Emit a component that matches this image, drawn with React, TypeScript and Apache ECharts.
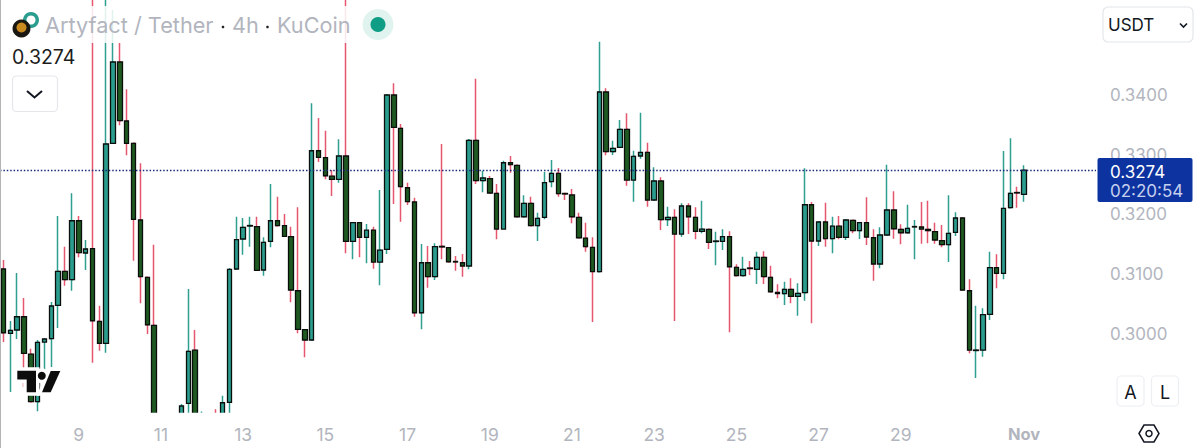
import React, { useEffect, useRef } from "react";
import * as echarts from "echarts";

const opens = [
  0.31084, 0.30006, 0.30062, 0.30284, 0.29659, 0.2886, 0.2986, 0.29916, 0.30475, 0.31045,
  0.30905, 0.31893, 0.31352, 0.31424, 0.30207, 0.29839, 0.3319, 0.34553, 0.33564, 0.3319,
  0.31905, 0.30945, 0.3014, 0.28386, 0.28134, 0.28218, 0.28469, 0.28833, 0.29726, 0.28469,
  0.28553, 0.28637, 0.28587, 0.2885, 0.31084, 0.31587, 0.31804, 0.31793, 0.31067, 0.31548,
  0.31893, 0.3181, 0.31625, 0.3072, 0.30067, 0.29894, 0.33066, 0.32949, 0.32642, 0.32587,
  0.32978, 0.31548, 0.3186, 0.31615, 0.31737, 0.31201, 0.31414, 0.34, 0.33442, 0.32446,
  0.32207, 0.30351, 0.31189, 0.30955, 0.31464, 0.31441, 0.31211, 0.31189, 0.31134, 0.33241,
  0.32564, 0.32597, 0.32352, 0.31754, 0.32865, 0.32822, 0.3196, 0.32185, 0.3181, 0.3195,
  0.32547, 0.32688, 0.3235, 0.32324, 0.3195, 0.31603, 0.31447, 0.31039, 0.3405, 0.3305,
  0.33123, 0.33425, 0.32575, 0.32978, 0.3304, 0.3224, 0.32559, 0.3191, 0.3195, 0.3167,
  0.3214, 0.3195, 0.31716, 0.31749, 0.31545, 0.31548, 0.31625, 0.31112, 0.30972, 0.31101,
  0.31079, 0.3128, 0.30945, 0.30693, 0.3067, 0.30744, 0.30626, 0.30687, 0.32161, 0.31553,
  0.31872, 0.31592, 0.31804, 0.31615, 0.319, 0.31726, 0.3186, 0.31608, 0.31168, 0.31654,
  0.32073, 0.31749, 0.31692, 0.31788, 0.31788, 0.31749, 0.31709, 0.31558, 0.31491, 0.31699,
  0.31939, 0.3072, 0.29718, 0.29726, 0.30325, 0.31106, 0.31012, 0.32111, 0.32366, 0.32336,
];
const closes = [
  0.30016, 0.30057, 0.30284, 0.29671, 0.2886, 0.29855, 0.29911, 0.30464, 0.31045, 0.30905,
  0.31893, 0.31357, 0.31419, 0.30217, 0.29839, 0.33179, 0.34553, 0.33569, 0.3319, 0.31917,
  0.30955, 0.3015, 0.28386, 0.28134, 0.28218, 0.28419, 0.28788, 0.29705, 0.28553, 0.28587,
  0.28486, 0.28469, 0.28843, 0.31079, 0.31575, 0.31783, 0.31813, 0.31062, 0.31531, 0.31893,
  0.3181, 0.31632, 0.30732, 0.30073, 0.29894, 0.33066, 0.32956, 0.32647, 0.32587, 0.32978,
  0.31548, 0.3186, 0.31615, 0.31737, 0.31201, 0.31402, 0.34, 0.33459, 0.32463, 0.32212,
  0.30351, 0.31189, 0.30955, 0.31458, 0.31453, 0.31206, 0.31201, 0.31134, 0.33241, 0.32564,
  0.32609, 0.32358, 0.31754, 0.32865, 0.32832, 0.3196, 0.32185, 0.3181, 0.31933, 0.3253,
  0.32688, 0.32346, 0.32341, 0.3196, 0.31608, 0.31458, 0.31039, 0.3405, 0.3305, 0.33107,
  0.33425, 0.32575, 0.32973, 0.3304, 0.3224, 0.32559, 0.3191, 0.3195, 0.3167, 0.3214,
  0.3196, 0.31716, 0.31754, 0.31531, 0.31553, 0.31625, 0.31122, 0.30972, 0.31079, 0.31091,
  0.3128, 0.30955, 0.30703, 0.3067, 0.30744, 0.30626, 0.30677, 0.32161, 0.31553, 0.31872,
  0.31592, 0.31804, 0.31615, 0.31905, 0.31726, 0.3186, 0.3162, 0.31168, 0.31654, 0.32073,
  0.31759, 0.31692, 0.31766, 0.31796, 0.31754, 0.31726, 0.3157, 0.31491, 0.31682, 0.31939,
  0.30732, 0.29726, 0.29726, 0.30318, 0.31106, 0.31012, 0.32101, 0.32352, 0.32358, 0.3274,
];
const highs = [
  0.31235, 0.30212, 0.31017, 0.30598, 0.29748, 0.29894, 0.29927, 0.30531, 0.31972, 0.31458,
  0.32352, 0.31972, 0.3157, 0.3576, 0.30469, 0.3576, 0.35424, 0.34871, 0.34095, 0.33195,
  0.32855, 0.3095, 0.31491, 0.28469, 0.28352, 0.28486, 0.28821, 0.30749, 0.30062, 0.28696,
  0.28587, 0.28733, 0.2896, 0.31101, 0.3196, 0.31939, 0.3196, 0.3196, 0.31615, 0.32508,
  0.32296, 0.32006, 0.31793, 0.32118, 0.30078, 0.33861, 0.33614, 0.33402, 0.32743, 0.33257,
  0.3576, 0.3187, 0.3187, 0.31838, 0.31793, 0.32408, 0.34017, 0.34196, 0.33514, 0.3253,
  0.32279, 0.31503, 0.31469, 0.31514, 0.33179, 0.31453, 0.31302, 0.31335, 0.33262, 0.34273,
  0.32731, 0.32642, 0.32508, 0.32899, 0.32978, 0.3283, 0.32319, 0.32296, 0.32027, 0.32709,
  0.32911, 0.32777, 0.32363, 0.32425, 0.32027, 0.3186, 0.31615, 0.34893, 0.34112, 0.33234,
  0.33581, 0.33693, 0.33066, 0.33703, 0.332, 0.32788, 0.32621, 0.32128, 0.32084, 0.32185,
  0.32185, 0.32118, 0.32228, 0.31754, 0.31709, 0.31749, 0.31716, 0.31163, 0.3129, 0.31218,
  0.31374, 0.31381, 0.31139, 0.30827, 0.30871, 0.30928, 0.30844, 0.32771, 0.32207, 0.31872,
  0.32195, 0.3196, 0.31972, 0.31922, 0.31905, 0.3187, 0.32285, 0.31749, 0.31783, 0.32832,
  0.32386, 0.31833, 0.32161, 0.31905, 0.32207, 0.32228, 0.3186, 0.31821, 0.32319, 0.32034,
  0.31947, 0.30911, 0.30469, 0.30425, 0.31374, 0.3133, 0.33061, 0.33274, 0.32463, 0.32822,
];
const lows = [
  0.2986, 0.29023, 0.29911, 0.29106, 0.28855, 0.28699, 0.29391, 0.29441, 0.30095, 0.30804,
  0.3072, 0.3128, 0.31067, 0.29514, 0.29715, 0.29681, 0.3319, 0.33492, 0.32989, 0.31223,
  0.30509, 0.29994, 0.28218, 0.2805, 0.2805, 0.28134, 0.28386, 0.28671, 0.28469, 0.28386,
  0.28419, 0.28386, 0.28469, 0.28671, 0.31084, 0.31324, 0.31458, 0.31062, 0.30972, 0.31448,
  0.31804, 0.3163, 0.30526, 0.30006, 0.29604, 0.2989, 0.32877, 0.32587, 0.32307, 0.3253,
  0.31347, 0.31246, 0.3128, 0.31179, 0.31089, 0.30811, 0.31335, 0.32173, 0.31877, 0.32156,
  0.30284, 0.30073, 0.3077, 0.30899, 0.31246, 0.31201, 0.31055, 0.30955, 0.31079, 0.32508,
  0.32369, 0.3235, 0.31582, 0.31754, 0.32698, 0.31955, 0.31955, 0.31804, 0.31553, 0.31917,
  0.32453, 0.32296, 0.3224, 0.3185, 0.31603, 0.31374, 0.30196, 0.31034, 0.32989, 0.32994,
  0.3312, 0.3248, 0.32212, 0.32932, 0.32128, 0.32235, 0.31737, 0.31804, 0.30212, 0.31625,
  0.3167, 0.31582, 0.31682, 0.31419, 0.31146, 0.31402, 0.30023, 0.30967, 0.30967, 0.30983,
  0.30832, 0.30832, 0.30698, 0.30593, 0.30481, 0.30509, 0.30301, 0.30553, 0.30174, 0.31469,
  0.31458, 0.31347, 0.31582, 0.3157, 0.31682, 0.31587, 0.31486, 0.30888, 0.31096, 0.31649,
  0.31592, 0.31498, 0.31687, 0.31246, 0.31508, 0.31514, 0.31508, 0.31447, 0.31201, 0.31637,
  0.30727, 0.29671, 0.29257, 0.29614, 0.30229, 0.3076, 0.30911, 0.32106, 0.32111, 0.32212,
];

const dayLabels = ["9", "11", "13", "15", "17", "19", "21", "23", "25", "27", "29"];
const monthLabel = "Nov";
const priceTicks = [0.3, 0.31, 0.32, 0.33, 0.34];
const lastPrice = 0.3274;

const SLOTS = 160;
const FIRST_DAY_SLOT = 11;
const DAY_SLOT_STEP = 12;
const MONTH_SLOT = 149;

const GREY = "#b2b5be";
const FONT = "Inter, 'Noto Sans', sans-serif";
const WICK_UP = "#2f9f90";
const WICK_DOWN = "#e5576f";
const BODY_UP = "#2a9d8f";
const BODY_DOWN = "#1e5a22";

const categories: string[] = Array.from({ length: SLOTS }, () => "");
dayLabels.forEach((d, k) => {
  categories[FIRST_DAY_SLOT + k * DAY_SLOT_STEP] = d;
});
categories[MONTH_SLOT] = monthLabel;

const text = (
  x: number,
  y: number,
  value: string,
  size: number,
  fill: string,
  align: string = "left",
  weight: number = 400
) => ({
  type: "text",
  x,
  y,
  z: 100,
  style: { text: value, fill, fontSize: size, fontFamily: FONT, fontWeight: weight, align, verticalAlign: "middle" },
});

const box = (x: number, y: number, width: number, height: number, r: number, fill: string, stroke: string) => ({
  type: "rect",
  z: 95,
  shape: { x, y, width, height, r },
  style: { fill, stroke, lineWidth: 1.2 },
});

const logoT = [[17.3, 370.7], [36, 370.7], [36, 392.3], [26.7, 392.3], [26.7, 379.5], [17.3, 379.5]];
const logoSlash = [[50.7, 370.9], [60.3, 370.9], [50.7, 392.3], [42, 392.3]];

const logoLayer = (fill: string, stroke: string, lineWidth: number, z: number) => [
  { type: "polygon", z, shape: { points: logoT }, style: { fill, stroke, lineWidth } },
  { type: "polygon", z, shape: { points: logoSlash }, style: { fill, stroke, lineWidth } },
  { type: "circle", z, shape: { cx: 41.8, cy: 375.8, r: 4 }, style: { fill, stroke, lineWidth } },
];

export default function App() {
  const ref = useRef<HTMLDivElement>(null);
  useEffect(() => {
    document.body.style.margin = "0";
    const chart = echarts.init(ref.current!, null, { renderer: "svg", width: 1200, height: 448 });
    const wicks = opens.map((o, i) => [o, closes[i], lows[i], highs[i]]);
    const bodies = opens.map((o, i) => [o, closes[i], Math.min(o, closes[i]), Math.max(o, closes[i])]);
    chart.setOption({
      animation: false,
      backgroundColor: "#ffffff",
      grid: { left: -1, top: 0, width: 1097, height: 412.7, containLabel: false },
      xAxis: {
        type: "category",
        z: 20,
        data: categories,
        boundaryGap: true,
        axisLine: { show: false },
        axisTick: { show: false },
        splitLine: { show: false },
        axisLabel: {
          interval: (_: number, v: string) => v !== "",
          hideOverlap: false,
          margin: 13,
          color: GREY,
          fontSize: 17.5,
          fontFamily: FONT,
          formatter: (v: string) => (v === monthLabel ? `{m|${v}}` : v),
          rich: { m: { color: GREY, fontSize: 16.5, fontWeight: 700, fontFamily: FONT } },
        },
      },
      yAxis: {
        type: "value",
        z: 20,
        position: "right",
        min: 0.28676,
        max: 0.35592,
        axisLine: { show: false },
        axisTick: { show: false },
        splitLine: { show: false },
        axisLabel: {
          customValues: priceTicks,
          margin: 14,
          color: GREY,
          fontSize: 17,
          fontFamily: FONT,
          formatter: (v: number) => v.toFixed(4),
        },
      },
      series: [
        {
          name: "Wicks",
          type: "candlestick",
          data: wicks,
          barWidth: 1.4,
          silent: true,
          itemStyle: { color: WICK_UP, color0: WICK_DOWN, borderColor: WICK_UP, borderColor0: WICK_DOWN, borderWidth: 1.5 },
        },
        {
          name: "Bodies",
          type: "candlestick",
          data: bodies,
          barWidth: 5,
          silent: true,
          itemStyle: { color: BODY_UP, color0: BODY_DOWN, borderColor: "#0b0f0c", borderColor0: "#0b0f0c", borderWidth: 1.3 },
          markLine: {
            silent: true,
            symbol: "none",
            animation: false,
            precision: 5,
            label: { show: false },
            lineStyle: { color: "#1b2a78", width: 1.3, type: [1.5, 1.9] },
            data: [{ yAxis: lastPrice }],
          },
        },
      ],
      graphic: {
        elements: [
          { type: "rect", z: 10, shape: { x: 0, y: 412.7, width: 1200, height: 36 }, style: { fill: "#ffffff" } },
          { type: "rect", z: 90, shape: { x: 12, y: 6, width: 340, height: 37 }, style: { fill: "rgba(255,255,255,0.85)" } },
          { type: "rect", z: 90, shape: { x: 0, y: 0, width: 1, height: 448 }, style: { fill: "#b4b4b4" } },
          { type: "ring", z: 96, shape: { cx: 31, cy: 20, r: 8, r0: 4.5 }, style: { fill: "#2a9d8f" } },
          { type: "circle", z: 97, shape: { cx: 21.5, cy: 28.5, r: 9 }, style: { fill: "#1a1612" } },
          { type: "circle", z: 98, shape: { cx: 21.5, cy: 27.5, r: 5 }, style: { fill: "#c98a1f" } },
          text(45, 25, "Artyfact / Tether", 21.7, GREY),
          { type: "circle", z: 96, shape: { cx: 223, cy: 27, r: 1.3 }, style: { fill: "#222" } },
          text(232, 25, "4h", 21.7, GREY),
          { type: "circle", z: 96, shape: { cx: 267.5, cy: 27, r: 1.3 }, style: { fill: "#222" } },
          text(277, 25, "KuCoin", 21.7, GREY),
          { type: "circle", z: 96, shape: { cx: 378, cy: 24.5, r: 15.5 }, style: { fill: "#e0f3ef" } },
          { type: "circle", z: 97, shape: { cx: 378, cy: 24.5, r: 7.5 }, style: { fill: "#0f9d85" } },
          text(12, 57, "0.3274", 19.5, "#1c1c1c"),
          box(12.5, 76, 45, 35.5, 4, "#ffffff", "#e4e6ea"),
          { type: "polyline", z: 97, shape: { points: [[27, 91], [34.5, 97.5], [42, 91]] }, style: { fill: "none", stroke: "#131722", lineWidth: 2 } },
          box(1103, 7, 90, 35, 5, "#ffffff", "#e4e6ea"),
          text(1108, 25, "USDT", 17, "#131722"),
          { type: "polyline", z: 97, shape: { points: [[1180, 23.5], [1183.5, 27], [1187, 23.5]] }, style: { fill: "none", stroke: "#131722", lineWidth: 1.6 } },
          { type: "rect", z: 95, shape: { x: 1097.5, y: 158, width: 95, height: 44, r: 2 }, style: { fill: "#0d33a0" } },
          text(1110, 171.5, "0.3274", 17, "#ffffff"),
          text(1110, 191, "02:20:54", 17, "#c5d0ee"),
          box(1117, 376, 27, 30, 4, "#ffffff", "#eceef2"),
          box(1151.5, 376, 27, 30, 4, "#ffffff", "#eceef2"),
          text(1130.5, 392, "A", 18, "#131722", "center"),
          text(1165, 392, "L", 18, "#131722", "center"),
          { type: "polygon", z: 96, shape: { points: [[1139, 433.5], [1144, 425], [1154, 425], [1159, 433.5], [1154, 442], [1144, 442]] }, style: { fill: "none", stroke: "#131722", lineWidth: 1.5 } },
          { type: "circle", z: 96, shape: { cx: 1149, cy: 433.5, r: 3 }, style: { fill: "none", stroke: "#131722", lineWidth: 1.5 } },
          ...logoLayer("#ffffff", "#ffffff", 7, 91),
          ...logoLayer("#0c0c0c", "#0c0c0c", 0, 92),
        ],
      },
    });
    return () => chart.dispose();
  }, []);
  return <div ref={ref} style={{ position: "absolute", left: 0, top: 0, width: 1200, height: 448 }} />;
}
